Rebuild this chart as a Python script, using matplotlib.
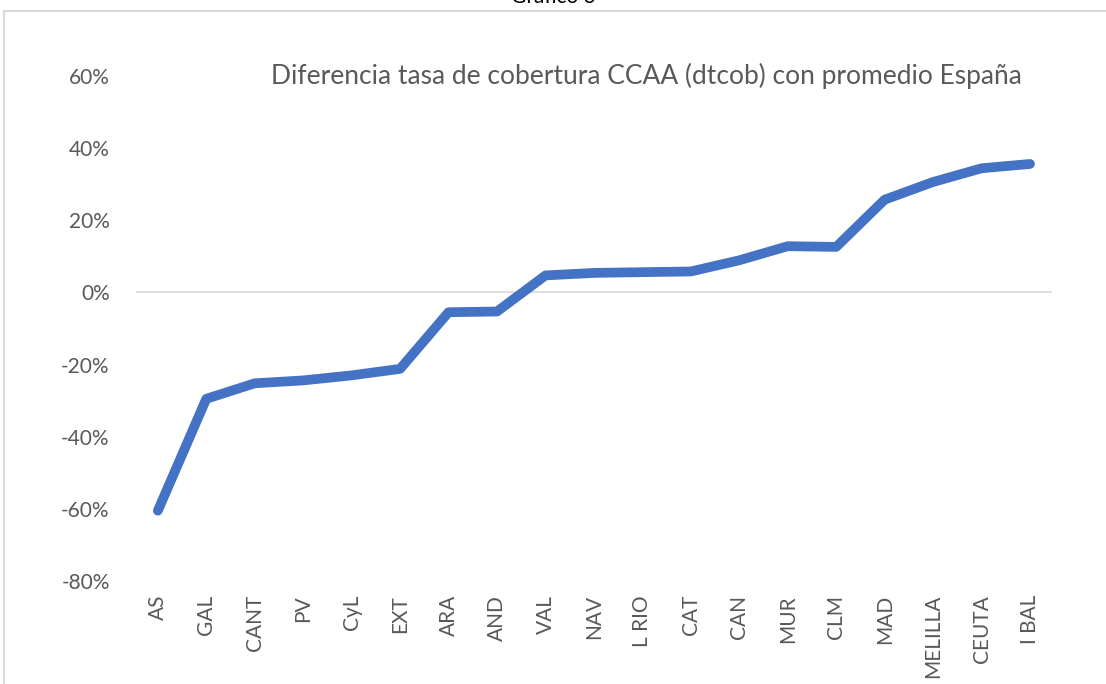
import matplotlib.pyplot as plt
from matplotlib.lines import Line2D
from matplotlib.ticker import FuncFormatter

plt.rcParams['font.family'] = ['Lato', 'DejaVu Sans']

regiones = ['AS', 'GAL', 'CANT', 'PV', 'CyL', 'EXT', 'ARA', 'AND', 'VAL', 'NAV',
            'L RIO', 'CAT', 'CAN', 'MUR', 'CLM', 'MAD', 'MELILLA', 'CEUTA', 'I BAL']
dtcob = [-60.5, -29.5, -25.2, -24.4, -23.0, -21.2, -5.5, -5.3, 4.7, 5.4,
         5.6, 5.8, 8.9, 12.8, 12.6, 25.7, 30.6, 34.4, 35.6]
yticks = [-80, -60, -40, -20, 0, 20, 40, 60]

gris = '#595959'
linea = '#D9D9D9'

fig = plt.figure(figsize=(11.06, 6.84), dpi=100)
ax = fig.add_axes([0.123, 0.1506, 0.828, 0.7384])

x = range(len(regiones))
ax.plot(x, dtcob, color='#4472C4', lw=7, solid_capstyle='round', solid_joinstyle='round')
ax.axhline(0, color=linea, lw=1.2, zorder=0)

ax.set_xlim(-0.45, len(regiones) - 0.55)
ax.set_ylim(-80, 60)
ax.set_yticks(yticks)
ax.yaxis.set_major_formatter(FuncFormatter(lambda v, p: f'{v:.0f}%'))
ax.set_xticks(list(x))
ax.set_xticklabels(regiones, rotation=90)
ax.tick_params(axis='both', length=0, colors=gris, labelsize=15)
ax.tick_params(axis='y', pad=19)
ax.tick_params(axis='x', pad=10)
for s in ax.spines.values():
    s.set_visible(False)

ax.text(0.557, 1.0, 'Diferencia tasa de cobertura CCAA (dtcob) con promedio España',
        transform=ax.transAxes, ha='center', va='center', fontsize=19, color=gris)

# borde del gráfico
x0 = 4 / 1106
y0 = 1 - 11 / 684
fig.add_artist(Line2D([x0, x0], [0, y0], color=linea, lw=1.5, transform=fig.transFigure))
fig.add_artist(Line2D([x0, 1], [y0, y0], color=linea, lw=1.5, transform=fig.transFigure))
fig.text(0.5, 1 - 3 / 684, 'Gráfico 3', ha='center', va='baseline', fontsize=15, color='black')

fig.savefig('out.png', dpi=100)
